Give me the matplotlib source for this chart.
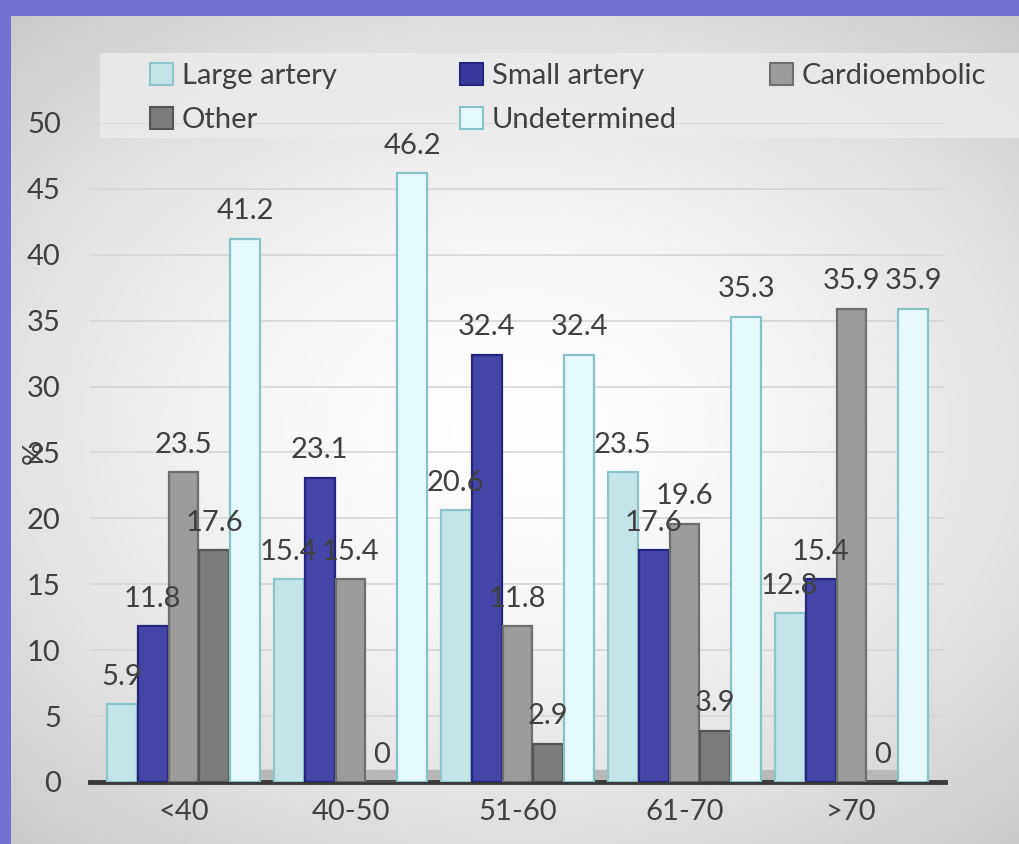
import numpy as np
import matplotlib
matplotlib.use('Agg')
import matplotlib.pyplot as plt
from matplotlib.patches import Rectangle

plt.rcParams['font.family'] = ['Lato', 'DejaVu Sans']

# Stroke subtype (%) by age group
age_groups = ['<40', '40-50', '51-60', '61-70', '>70']
series_names = ['Large artery', 'Small artery', 'Cardioembolic', 'Other', 'Undetermined']
large_artery = [5.9, 15.4, 20.6, 23.5, 12.8]
small_artery = [11.8, 23.1, 32.4, 17.6, 15.4]
cardioembolic = [23.5, 15.4, 11.8, 19.6, 35.9]
other = [17.6, 0, 2.9, 3.9, 0]
undetermined = [41.2, 46.2, 32.4, 35.3, 35.9]
yticks = [0, 5, 10, 15, 20, 25, 30, 35, 40, 45, 50]

series = [large_artery, small_artery, cardioembolic, other, undetermined]
faces = ['#c4e5e7', '#4545a8', '#9c9c9c', '#7c7c7c', '#e6f9fa']
edges = ['#8cc6ca', '#25257f', '#6e6e6e', '#555555', '#86c3c7']
legend_faces = ['#c4e5e7', '#3a3a9e', '#9c9c9c', '#7c7c7c', '#e6f9fa']
fs = 21

fig = plt.figure(figsize=(10.2, 8.44), dpi=100)
fig.patch.set_facecolor('#7571d1')

# light panel with radial shading
bg = fig.add_axes([11 / 1020, 0, 1 - 11 / 1020, (844 - 16) / 844])
bg.set_zorder(-2)
yy, xx = np.mgrid[-1:1:300j, -1:1:360j]
r = np.sqrt((xx * 0.9) ** 2 + (yy * 1.0) ** 2)
shade = np.clip(1 - 0.13 * r ** 1.6, 0, 1)
bg.imshow(np.dstack([shade] * 3), aspect='auto', extent=[0, 1, 0, 1])
bg.set_axis_off()

ax = fig.add_axes([90 / 1020, 62 / 844, 855 / 1020, 659 / 844])
ax.set_facecolor('none')

x = np.arange(len(age_groups))
w = 0.185
# floor slab under the bars
ax.axhspan(0, 0.9, xmin=0.02, xmax=0.98, color='#b8b8b8', zorder=1)
for i, (vals, fc, ec) in enumerate(zip(series, faces, edges)):
    pos = x + (i - 2) * w
    ax.bar(pos, vals, width=w * 0.97, color=fc, edgecolor=ec, linewidth=1.6, zorder=3)
    for px, v in zip(pos, vals):
        ax.text(px, v + 1.1, f'{v:g}', ha='center', va='bottom', fontsize=fs,
                color='#404040', zorder=5)

ax.set_xlim(-0.56, 4.56)
ax.set_ylim(0, 50)
ax.set_yticks(yticks)
ax.set_xticks(x)
ax.set_xticklabels(age_groups)
ax.tick_params(axis='both', length=0, labelsize=fs, labelcolor='#404040')
ax.tick_params(axis='y', pad=21)
ax.tick_params(axis='x', pad=12)
ax.grid(axis='y', color='#d6d6d6', linewidth=1.2, zorder=0)
for s in ['top', 'right', 'left']:
    ax.spines[s].set_visible(False)
ax.spines['bottom'].set_color('#3a3a3a')
ax.spines['bottom'].set_linewidth(3.5)
ax.set_ylabel('%', fontsize=fs, color='#404040')
ax.yaxis.set_label_coords(-0.05, 0.5)

# legend: pale band with three columns, reading row by row
band = Rectangle((100 / 1020, 1 - 138 / 844), 920 / 1020, 85 / 844,
                 transform=fig.transFigure, facecolor='#ececec',
                 edgecolor='none', alpha=0.8, zorder=-1)
fig.patches.append(band)
col_x = [150, 460, 770]
columns = [[0, 3], [1, 4], [2]]
for cx, idx in zip(col_x, columns):
    handles = [Rectangle((0, 0), 1, 1, facecolor=legend_faces[k], edgecolor=edges[k],
                         linewidth=1.5) for k in idx]
    leg = fig.legend(handles, [series_names[k] for k in idx], loc='upper left',
                     bbox_to_anchor=(cx / 1020, 1 - 63 / 844), fontsize=fs,
                     frameon=False, handlelength=0.8, handleheight=0.8,
                     handletextpad=0.3, labelspacing=0.6, borderpad=0,
                     borderaxespad=0)
    for t in leg.get_texts():
        t.set_color('#404040')

fig.savefig('out.png', dpi=100)
